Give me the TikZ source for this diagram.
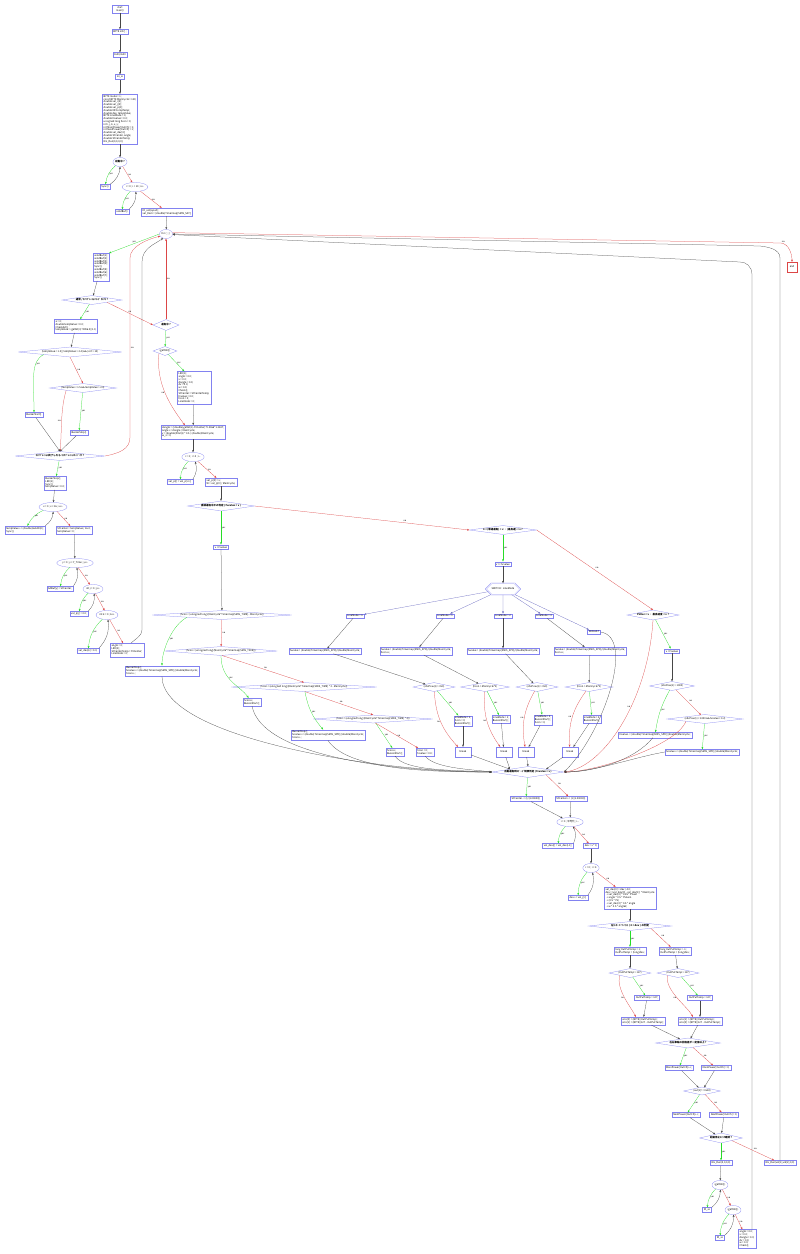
\documentclass[tikz,border=0pt]{standalone}
\usepackage{fontspec}
\setmainfont{Noto Sans CJK JP}
\usetikzlibrary{shapes.geometric,shapes.misc,arrows.meta}
\definecolor{nodeblue}{RGB}{130,130,240}
\definecolor{yesgreen}{RGB}{40,220,40}
\definecolor{nored}{RGB}{220,70,70}
\definecolor{edgegray}{RGB}{70,70,70}
\tikzset{
	every node/.style={font=\fontsize{2.5}{2.8}\selectfont},
	box/.style={draw=nodeblue,line width=.25pt,inner sep=1.3pt,align=left},
	cbox/.style={box,align=center},
	dia/.style={draw=nodeblue,line width=.25pt,diamond,inner sep=0pt},
	oval/.style={draw=nodeblue,line width=.25pt,ellipse,inner sep=.3pt,minimum height=9pt},
	bold/.style={font=\fontsize{2.5}{2.8}\selectfont\bfseries},
	go/.style={-{Stealth[length=2.4pt,width=1.8pt]},line width=.25pt,edgegray},
	yes/.style={go,yesgreen},
	no/.style={go,nored},
	sw/.style={go,nodeblue!80!black},
	lab/.style={font=\fontsize{2.2}{2.4}\selectfont,text=black,inner sep=.8pt}
}
\begin{document}
\begin{tikzpicture}[x=1pt,y=-1pt]
\useasboundingbox (0,0) rectangle (800,1254);
% setup
\node[cbox,minimum width=16pt] (st) at (120,9) {start\\main()};
\node[box] (ini) at (120,32) {BYTE init() ;};
\node[box] (io) at (120,55) {0x00,0x00};
\node[box] (irq) at (120,77) {ini\_io};
\node[box] (decl) at (120,119) {BYTE mode = 1;\\const BYTE MainCycle = 120;\\double val\_i[4];\\double val\_j[4];\\double val\_p[4];\\double MFCompTemp;\\double dev, tempValue;\\BYTE LineMode = 0;\\double fvvalue = 0.0;\\unsigned long hcon = 0;\\int i, j, k, x, y;\\int MainPower[OutCh] = 1;\\int NextPower[OutCh] = 1;\\double val\_dev[4];\\double SYCenter, angle;\\double SYCenterTemp;\\NG\_Run(0,0,0,0);};
\node[oval,bold] (boot) at (120,162) {起動中 ?};
\node[box] (sync) at (105,187) {Sync()};
\node[oval] (f10) at (135,187) {i = 0 ; i < 10 ; i++};
\node[box] (sbuf) at (122,212) {sendBuf()};
\node[box] (enab) at (167,212) {fd\_sel(iopvd);\\val\_Dem = (double)Timermap[SMIS\_SAT];};
\node[oval] (loop) at (166,234) {for ( ; ; )};
\node[draw=nored,line width=.25pt,minimum size=10pt,inner sep=.5pt] (fin) at (792,267) {end};
% calibration
\node[box] (sb9) at (101,267) {sendBuf(1);\\sendBuf(2);\\sendBuf(3);\\sendBuf(4);\\Sync();\\sendBuf(5);\\sendBuf(6);\\sendBuf(7);\\Sync();};
\node[dia,bold,minimum width=60pt,minimum height=9pt,aspect=6.7] (cal) at (92,300) {通常 / ｷｬﾘﾌﾞﾚｰｼｮﾝﾓｰﾄﾞ ｾﾚｸﾄ ?};
\node[dia,bold,minimum width=26pt,minimum height=11pt,aspect=2.4] (run) at (166,325) {運転中 ?};
\node[box] (a0) at (76,326) {a = 0;\\double tempValue = 0.0;\\CheckAd();\\tempValue = (getAD(1)*4096.0)/1.0;};
\node[dia,minimum width=104pt,minimum height=10pt,aspect=10.4] (tv1) at (70,352) {(tempValue < 1.0 || tempValue > 2.4) \&\& (cnt > 10)};
\node[dia,minimum width=67pt,minimum height=9pt,aspect=7.4] (tv2) at (83,388) {(tempValue < 1.5 \&\& tempValue > 2.0)};
\node[box] (bst) at (34,415) {BuzzerStart()};
\node[box] (bsp) at (79,433) {BuzzerStop()};
\node[dia,bold,minimum width=90pt,minimum height=9pt,aspect=10] (cend) at (60,456) {ｷｬﾘﾌﾞﾚｰｼｮﾝ終了したら ｷｬﾘﾌﾞﾚｰｼｮﾝﾓｰﾄﾞ ｵﾌ ?};
\node[box] (bsp2) at (55,483) {BuzzerStop();\\LED(1);\\Sync();\\tempValue = 0.0;};
\node[oval] (xl) at (53,507) {x = 0 ; x < 16 ; x++};
\node[box] (tva) at (25,530) {tempValue += (double)GetAD(0);\\Sync();};
\node[box] (syc) at (74,530) {SYCenter = tempValue / 16.0;\\tempValue = 0;};
\node[oval] (yl) at (75,563) {y = 0 ; y < Y\_Time ; y++};
\node[box] (adb) at (60,589) {AdBuf[y] = SYCenter;};
\node[oval] (jl) at (93,589) {int j = 0 ; j++};
\node[box] (vpj) at (79,614) {val\_p[j] = 0.0;};
\node[oval] (kl) at (107,615) {int k = 0 ; k++};
\node[box] (vdv) at (88,651) {val\_dev[k] = 0.0;};
\node[box] (ang0) at (127,650) {angle = 0;\\LED(2);\\SYCenterTemp = SYCenter;\\LineMode = 0;};
% run
\node[dia,minimum width=24pt,minimum height=9pt,aspect=2.7] (gsw) at (165,351) {(getSW())};
\node[box] (led) at (194,388) {LED(1);\\angle = 0.0;\\v = 0.0;\\dangle = 0.0;\\dv = 0.0;\\w = 0.0;\\Check();\\SYCenter = SYCenterTemp;\\fvvalue = 0.0;\\hcon = 0;\\LineMode = 0;};
\node[box] (dang) at (193,432) {dangle = ((double)getAD(1)-SYCenter)*0.0068*1.3447;\\angle += dangle / MainCycle;\\v = (double)FVal(1) * 0.5 / (double)MainCycle;\\w\_v = 0;};
\node[oval] (fi) at (193,457) {i = 3 ; i > 0 ; i-{}-};
\node[box] (vpi) at (180,482) {val\_p[i] = val\_p[i-1];};
\node[box] (vp0) at (221,482) {val\_p[0] = v;\\W = val\_p[0] / MainCycle;};
\node[dia,bold,minimum width=67pt,minimum height=10pt,aspect=6.7] (str) at (221,506) {直線運転中かの判定 ( fvvalue < v )};
\node[box] (vlf) at (221,547) {v < fvvalue};
\node[dia,minimum width=140pt,minimum height=9pt,aspect=15.6] (h1) at (222,615) {(hcon < (unsigned long)(MainCycle*Timermap[SMIS\_TIME] - MainCycle))};
\node[dia,minimum width=113pt,minimum height=9pt,aspect=12.6] (h2) at (221,651) {(hcon < (unsigned long)(MainCycle*Timermap[SMIS\_TIME]))};
\node[box] (bsf) at (162,671) {BuzzerStop();\\fvvalue += (double)Timermap[SMIS\_SPD]/(double)MainCycle;\\hcon++;};
\node[box] (hbs) at (252,702) {hcon++;\\BuzzerStart();};
\node[dia,minimum width=146pt,minimum height=9pt,aspect=16.2] (h3) at (304,687) {(hcon < (unsigned long)(MainCycle*Timermap[SMIS\_TIME] * 2 - MainCycle))};
\node[box] (bsf2) at (328,735) {BuzzerStop();\\fvvalue += (double)Timermap[SMIS\_SPD]/(double)MainCycle;\\hcon++;};
\node[dia,minimum width=120pt,minimum height=8pt,aspect=15] (h4) at (373,719) {(hcon < (unsigned long)(MainCycle*Timermap[SMIS\_TIME] * 2))};
\node[box] (hbs2) at (395,752) {hcon++;\\BuzzerStart();};
\node[box] (hz) at (425,752) {hcon = 0;\\fvvalue = 0.0;};
% switch
\node[dia,bold,minimum width=67pt,minimum height=9pt,aspect=7.4] (mid) at (503,530) {0 < (等速運転) < v ・ (最高速) < v ?};
\node[box] (vge) at (503,564) {v >= fvvalue};
\node[chamfered rectangle,chamfered rectangle xsep=2pt,draw=nodeblue,double,double distance=.6pt,line width=.25pt,inner xsep=4pt,inner ysep=1pt,minimum height=9pt] (swi) at (503,589) {SWITCH : LineMode};
\node[box] (lm0) at (355,616) {LineMode = 0};
\node[box] (lm1) at (445,616) {LineMode = 1};
\node[box] (lm2) at (503,616) {LineMode = 2};
\node[box] (lm3) at (544,616) {LineMode = 3};
\node[box] (dft) at (594,632) {DEFAULT};
\node[box] (fv0) at (325,651) {fvvalue = (double)Timermap[SMIS\_SPD]/(double)MainCycle;};
\node[box] (fv1) at (416,651) {fvvalue = (double)Timermap[SMIS\_SPD]/(double)MainCycle;\\hcon++;};
\node[box] (fv2) at (503,651) {fvvalue = (double)Timermap[SMIS\_SPD]/(double)MainCycle;};
\node[box] (fv3) at (590,651) {fvvalue = (double)Timermap[SMIS\_SPD]/(double)MainCycle;\\hcon++;};
\node[dia,minimum width=42pt,minimum height=9pt,aspect=4.7] (d0) at (434,687) {(obsPow(1) > 150)};
\node[dia,minimum width=49pt,minimum height=9pt,aspect=5.4] (d1) at (485,687) {(hcon > MainCycle*3)};
\node[dia,minimum width=42pt,minimum height=9pt,aspect=4.7] (d2) at (537,687) {(obsPow(1) > 150)};
\node[dia,minimum width=48pt,minimum height=9pt,aspect=5.3] (d3) at (589,687) {(hcon > MainCycle*3)};
\node[box] (lb1) at (463,721) {LineMode = 1;\\hcon = 0;\\BuzzerStart();};
\node[box] (lb2) at (501,719) {LineMode = 2;\\BuzzerStart();};
\node[box] (lb3) at (543,720) {LineMode = 3;\\BuzzerStart();\\hcon = 0;};
\node[box] (lb0) at (592,719) {LineMode = 0;\\BuzzerStart();};
\node[cbox,minimum width=16pt,minimum height=10pt] (bk0) at (463,752) {break};
\node[cbox,minimum width=16pt,minimum height=10pt] (bk1) at (504,752) {break};
\node[cbox,minimum width=16pt,minimum height=10pt] (bk2) at (526,752) {break};
\node[cbox,minimum width=16pt,minimum height=10pt] (bk3) at (570,752) {break};
% deceleration
\node[dia,bold,minimum width=52pt,minimum height=10pt,aspect=5.2] (fvd) at (653,615) {FVDec < v ・ 最高速度 < v ?};
\node[box] (vlf2) at (672,651) {v < fvvalue};
\node[dia,minimum width=45pt,minimum height=9pt,aspect=5] (p1k) at (672,686) {(obsPow(1) > 1000)};
\node[dia,minimum width=76pt,minimum height=9pt,aspect=8.4] (p2k) at (705,719) {(obsPow(1) < 1000 \&\& fvvalue < 0.2)};
\node[box] (fvm) at (655,735) {fvvalue -= (double)Timermap[SMIS\_SPD]/(double)MainCycle;};
\node[box] (fvp) at (702,752) {fvvalue += (double)Timermap[SMIS\_SPD]/(double)MainCycle;};
% output
\node[dia,bold,minimum width=72pt,minimum height=11pt,aspect=6.5] (mg) at (528,772) {自動運転時ｽﾋﾟｰﾄﾞ制限判定 ( fvvalue < v )};
\node[box] (scm) at (526,799) {SYCenter -= (1/(1.00000))};
\node[box] (scp) at (571,799) {SYCenter += (1/(1.00000))};
\node[oval] (il) at (570,822) {i = 3 ; 平均化 ; i-{}-};
\node[box] (vdi) at (558,846) {val\_dev[i] = val\_dev[i-1];};
\node[box] (dvv) at (591,846) {dev = v * 0;};
\node[oval] (il2) at (591,868) {i = 0 ; i < 4};
\node[box] (dvj) at (578,898) {dev += val\_j[i];};
\node[box] (big) at (630,898) {val\_dev[0] = dev / 4.0;\\dev = (val\_dev[0] - val\_dev[1]) * MainCycle\\\ \ + val\_dev[0] * 0.45 * PGain\\\ \ + angle * 0.5 * YSGain\\\ \ + (0.5 * YS)\\\ \ + val\_dev[0] * 0.5 * angle\\\ \ + w * 0.5 * angle2;};
\node[dia,bold,minimum width=83pt,minimum height=9pt,aspect=9.2] (lr) at (630,926) {左ﾓｰﾀｰ ﾊﾟﾜｰ ｾｯﾄ ( 0 < dev ) の判定};
\node[box] (opl) at (630,951) {long OutPutTemp = 1;\\OutPutTemp = (long)dev;};
\node[box] (opr) at (675,951) {long OutPutTemp = -1;\\OutPutTemp = (long)dev;};
\node[dia,minimum width=42pt,minimum height=9pt,aspect=4.7] (dl) at (630,973) {(OutPutTemp > 127)};
\node[dia,minimum width=42pt,minimum height=9pt,aspect=4.7] (dr) at (678,973) {(OutPutTemp > 127)};
\node[box] (cl) at (647,998) {OutPutTemp = 127;};
\node[box] (cr) at (700,998) {OutPutTemp = 127;};
\node[box] (vml) at (643,1021) {vms[0] = (BYTE)(OutPutTemp);\\vms[1] = (BYTE)(127 - OutPutTemp);};
\node[box] (vmr) at (700,1021) {vms[1] = (BYTE)(OutPutTemp);\\vms[0] = (BYTE)(127 - OutPutTemp);};
\node[dia,bold,minimum width=65pt,minimum height=10pt,aspect=6.5] (spd) at (688,1043) {左右車輪の回転差が一定値以上 ?};
\node[box] (mp1) at (679,1068) {MainPower[OutCh]++;};
\node[box] (mp0) at (716,1068) {MainPower[OutCh] = 0;};
\node[dia,minimum width=37pt,minimum height=8pt,aspect=4.6] (od) at (702,1091) {(out[1] != 0x40)};
\node[box] (mq1) at (686,1115) {NextPower[OutCh]++;};
\node[box] (mq0) at (724,1115) {NextPower[OutCh] = 0;};
\node[dia,bold,minimum width=43pt,minimum height=10pt,aspect=4.3] (ss) at (721,1138) {起動停止ｽｲｯﾁ確認 ?};
\node[box] (ng0) at (721,1163) {NG\_Run(0,0,0,0)};
\node[box] (ng1) at (780,1163) {NG\_Run(val[1],val[2],0,0)};
\node[oval] (gs1) at (720,1185) {(getSW())};
\node[box] (fd1) at (707,1210) {fd\_so};
\node[oval] (gs2) at (733,1210) {(getSW())};
\node[box] (fd2) at (720,1238) {fd\_so};
\node[box] (ang1) at (747,1239) {angle = 0.0;\\v = 0.0;\\dangle = 0.0;\\dv = 0.0;\\w = 0.0;\\Check();};
\coordinate (e1) at (781,243);
\coordinate (c1) at (130,437);
\coordinate (c2) at (130,258);
\coordinate (c3) at (142,630);
\coordinate (c4) at (142,262);
\coordinate (r1) at (752,275);
\coordinate (r2) at (740,262);
\coordinate (r3) at (779,258);
\coordinate (r4) at (760,246);
% edges: setup
\draw[go] (st) -- (ini);
\draw[go] (ini) -- (io);
\draw[go] (io) -- (irq);
\draw[go] (irq) -- (decl);
\draw[go] (decl) -- (boot);
\draw[yes] (boot) to[bend right=20] node[lab,right]{yes} (sync);
\draw[go] (sync.north east) to[bend right=25] (boot);
\draw[no] (boot) -- node[lab,right]{no} (f10);
\draw[yes] (f10) to[bend right=20] node[lab,right]{yes} (sbuf);
\draw[go] (sbuf.north east) to[bend right=25] (f10);
\draw[no] (f10) -- node[lab,right]{no} (enab);
\draw[go] (enab) -- (loop);
\draw[yes] (loop.west) -- node[lab,above]{yes} (sb9.north east);
\draw[no] (loop.12) -- (e1) node[lab,above right]{no} .. controls +(8,1) and +(0,-8) .. (fin.north);
% edges: calibration
\draw[go] (sb9) -- (cal);
\draw[yes] (cal) -- node[lab,right]{yes} (a0);
\draw[no] (cal.south east) -- node[lab,above]{no} (run.west);
\draw[go] (a0) -- (tv1);
\draw[yes] (tv1.south west) .. controls +(-14,6) and +(0,-30) .. node[lab,right,pos=.3]{yes} (bst.north);
\draw[no] (tv1.south) -- node[lab,right]{no} (tv2.north);
\draw[yes] (tv2) -- node[lab,right]{yes} (bsp);
\draw[no] (tv2.south west) .. controls +(-6,20) and +(2,-20) .. node[lab,left]{no} (cend.north);
\draw[go] (bst) -- (cend.north);
\draw[go] (bsp) -- (cend.north);
\draw[no] (cend.east) .. controls +(15,-3) and +(0,12) .. (c1) -- node[lab,right]{no} (c2) .. controls +(0,-12) and +(-12,3) .. (loop.200);
\draw[yes] (cend) -- node[lab,right]{yes} (bsp2);
\draw[go] (bsp2) -- (xl);
\draw[yes] (xl) to[bend right=20] node[lab,right]{yes} (tva);
\draw[go] (tva.north east) to[bend right=25] (xl);
\draw[no] (xl) -- node[lab,right]{no} (syc);
\draw[go] (syc) -- (yl);
\draw[yes] (yl) to[bend right=20] node[lab,right]{yes} (adb);
\draw[go] (adb.north east) to[bend right=25] (yl);
\draw[no] (yl) -- node[lab,right]{no} (jl);
\draw[yes] (jl) to[bend right=20] node[lab,right]{yes} (vpj);
\draw[go] (vpj.north east) to[bend right=25] (jl);
\draw[no] (jl) -- node[lab,right]{no} (kl);
\draw[yes] (kl) to[bend right=20] node[lab,right]{yes} (vdv);
\draw[go] (vdv.north east) to[bend right=25] (kl);
\draw[no] (kl) -- node[lab,right]{no} (ang0);
\draw[go] (ang0.60) .. controls +(4,-4) and +(0,6) .. (c3) -- (c4) .. controls +(0,-14) and +(-8,6) .. (loop.235);
% edges: run
\draw[yes] (run) -- node[lab,right]{yes} (gsw);
\draw[no] (run) -- node[lab,right]{no} (loop);
\draw[yes] (gsw) -- node[lab,right]{yes} (led.120);
\draw[no] (gsw.south west) .. controls +(-3,30) and +(-15,-20) .. node[lab,left]{no} (dang.140);
\draw[go] (led) -- (dang);
\draw[go] (dang) -- (fi);
\draw[yes] (fi) to[bend right=20] node[lab,right]{yes} (vpi);
\draw[go] (vpi.north east) to[bend right=25] (fi);
\draw[no] (fi) -- node[lab,right]{no} (vp0);
\draw[go] (vp0) -- (str);
\draw[yes] (str) -- node[lab,right]{yes} (vlf);
\draw[no] (str.east) -- node[lab,above,pos=.7]{no} (mid.west);
\draw[go] (vlf) -- (h1);
\draw[yes] (h1.south west) .. controls +(-15,8) and +(0,-15) .. node[lab,right]{yes} (bsf.north);
\draw[no] (h1) -- node[lab,right]{no} (h2);
\draw[yes] (h2.south) .. controls +(0,25) and +(-8,-12) .. node[lab,right,pos=.4]{yes} (hbs.130);
\draw[no] (h2.-75) -- node[lab,above right]{no} (h3.north);
\draw[yes] (h3) to[bend right=15] node[lab,right]{yes} (bsf2);
\draw[no] (h3.-80) -- node[lab,above right]{no} (h4.north);
\draw[yes] (h4) -- node[lab,right]{yes} (hbs2);
\draw[no] (h4.-60) -- node[lab,right]{no} (hz);
\draw[go] (bsf.south) .. controls +(0,60) and +(-120,0) .. (mg.west);
\draw[go] (hbs.south) .. controls +(10,50) and +(-100,0) .. (mg.west);
\draw[go] (bsf2.south) .. controls +(20,30) and +(-60,0) .. (mg.west);
\draw[go] (hbs2.south) .. controls +(10,15) and +(-40,-2) .. (mg.west);
\draw[go] (hz.south) .. controls +(10,12) and +(-25,-3) .. (mg.west);
% edges: switch
\draw[yes] (mid) -- node[lab,right]{yes} (vge);
\draw[no] (mid.east) -- node[lab,above right,pos=.5]{no} (fvd.north);
\draw[go] (vge) -- (swi);
\draw[sw] (swi) -- (lm0);
\draw[sw] (swi) -- (lm1);
\draw[sw] (swi) -- (lm2);
\draw[sw] (swi) -- (lm3);
\draw[sw] (swi) -- (dft);
\draw[go] (lm0) -- (fv0);
\draw[go] (lm1) -- (fv1);
\draw[go] (lm2) -- (fv2);
\draw[go] (lm3) -- (fv3);
\draw[go] (fv0) -- (d0);
\draw[go] (fv1) -- (d1);
\draw[go] (fv2) -- (d2);
\draw[go] (fv3) -- (d3);
\draw[yes] (d0) -- node[lab,right]{yes} (lb1);
\draw[no] (d0) to[bend right=20] node[lab,left]{no} (bk0);
\draw[go] (lb1) -- (bk0);
\draw[yes] (d1) -- node[lab,right]{yes} (lb2);
\draw[no] (d1) to[bend right=20] node[lab,left]{no} (bk1);
\draw[go] (lb2) -- (bk1);
\draw[yes] (d2) -- node[lab,right]{yes} (lb3);
\draw[no] (d2) to[bend right=20] node[lab,left]{no} (bk2);
\draw[go] (lb3) -- (bk2);
\draw[yes] (d3) -- node[lab,right]{yes} (lb0);
\draw[no] (d3) to[bend right=20] node[lab,left]{no} (bk3);
\draw[go] (lb0) -- (bk3);
\draw[go] (bk0) -- (mg.north west);
\draw[go] (bk1) -- (mg.north west);
\draw[go] (bk2) -- (mg.north);
\draw[go] (bk3) -- (mg.north east);
\draw[go] (dft.east) .. controls +(35,5) and +(40,-40) .. (mg.east);
% edges: deceleration
\draw[yes] (fvd) -- node[lab,right]{yes} (vlf2);
\draw[no] (fvd.south) .. controls +(-5,80) and +(40,-5) .. node[lab,left,pos=.4]{no} (mg.east);
\draw[go] (vlf2) -- (p1k);
\draw[yes] (p1k) to[bend right=10] node[lab,right]{yes} (fvm);
\draw[no] (p1k) -- node[lab,above right]{no} (p2k);
\draw[yes] (p2k) -- node[lab,right]{yes} (fvp);
\draw[no] (p2k.south west) .. controls +(-10,25) and +(30,0) .. (mg.east);
\draw[go] (fvm) .. controls +(-20,25) and +(30,0) .. (mg.east);
\draw[go] (fvp.west) .. controls +(-30,5) and +(30,0) .. (mg.east);
% edges: output
\draw[yes] (mg) -- node[lab,right]{yes} (scm);
\draw[no] (mg.south east) -- node[lab,above right]{no} (scp);
\draw[go] (scm) -- (il);
\draw[go] (scp) -- (il);
\draw[yes] (il) to[bend right=20] node[lab,right]{yes} (vdi);
\draw[go] (vdi.north east) to[bend right=25] (il);
\draw[no] (il) -- node[lab,right]{no} (dvv);
\draw[go] (dvv) -- (il2);
\draw[yes] (il2) to[bend right=20] node[lab,right]{yes} (dvj);
\draw[go] (dvj.north east) to[bend right=25] (il2);
\draw[no] (il2) -- node[lab,right]{no} (big);
\draw[go] (big) -- (lr);
\draw[yes] (lr) -- node[lab,right]{yes} (opl);
\draw[no] (lr.south east) -- node[lab,above right]{no} (opr);
\draw[go] (opl) -- (dl);
\draw[go] (opr) -- (dr);
\draw[yes] (dl) -- node[lab,right]{yes} (cl);
\draw[no] (dl.south west) .. controls +(-3,15) and +(-5,-10) .. node[lab,left]{no} (vml.150);
\draw[go] (cl) -- (vml);
\draw[yes] (dr) -- node[lab,right]{yes} (cr);
\draw[no] (dr.south west) .. controls +(-3,15) and +(-5,-10) .. node[lab,left]{no} (vmr.150);
\draw[go] (cr) -- (vmr);
\draw[go] (vml) -- (spd);
\draw[go] (vmr) -- (spd);
\draw[yes] (spd) -- node[lab,right]{yes} (mp1);
\draw[no] (spd) -- node[lab,right]{no} (mp0);
\draw[go] (mp1) -- (od);
\draw[go] (mp0) -- (od);
\draw[yes] (od) -- node[lab,right]{yes} (mq1);
\draw[no] (od) -- node[lab,right]{no} (mq0);
\draw[go] (mq1) -- (ss);
\draw[go] (mq0) -- (ss);
\draw[yes] (ss) -- node[lab,right]{yes} (ng0);
\draw[no] (ss.south east) -- node[lab,above right]{no} (ng1);
\draw[go] (ng0) -- (gs1);
\draw[yes] (gs1) to[bend right=20] node[lab,right]{yes} (fd1);
\draw[go] (fd1.north east) to[bend right=25] (gs1);
\draw[no] (gs1) -- node[lab,right]{no} (gs2);
\draw[yes] (gs2) to[bend right=20] node[lab,right]{yes} (fd2);
\draw[go] (fd2.north east) to[bend right=25] (gs2);
\draw[no] (gs2) -- node[lab,right]{no} (ang1);
\draw[go] (ang1.north -| r1) -- (r1) .. controls +(0,-9) and +(6,0) .. (r2) -- (loop.-5);
\draw[go] (ng1) -- (ng1 |- r3) .. controls +(0,-9) and +(8,1) .. (r4) -- (loop.east);
\end{tikzpicture}
\end{document}
